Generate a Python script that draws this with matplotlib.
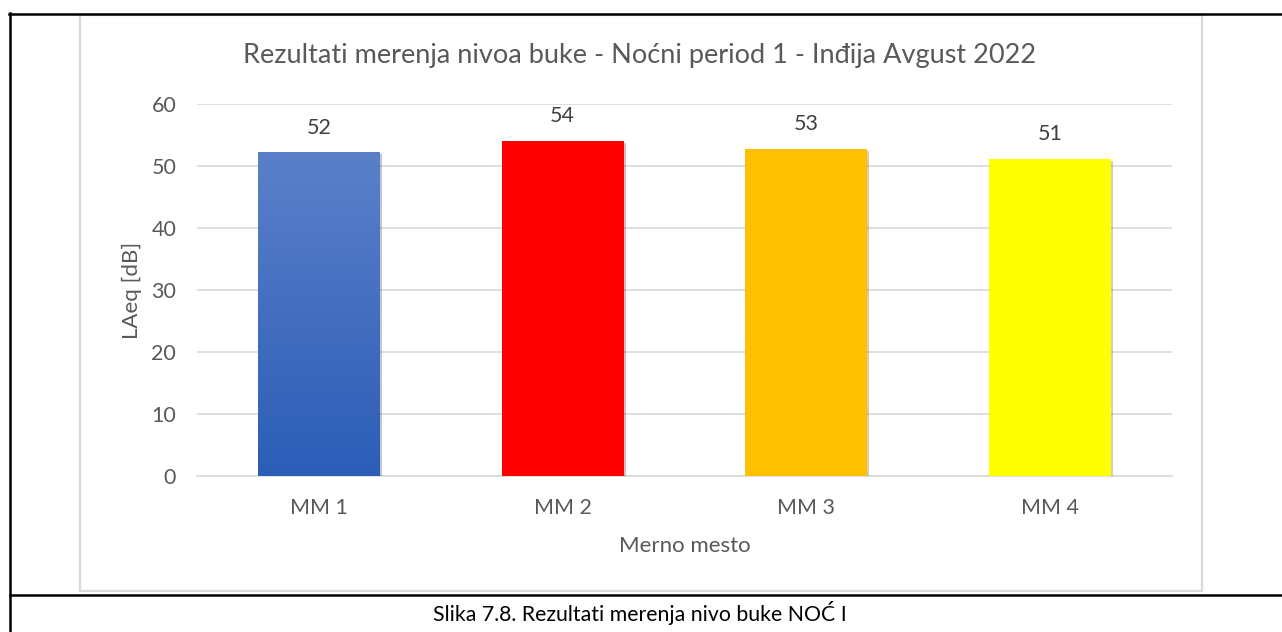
import numpy as np
import matplotlib.pyplot as plt
from matplotlib import patheffects
from matplotlib.colors import LinearSegmentedColormap
from matplotlib.lines import Line2D
from matplotlib.patches import Rectangle

# measurement points and night-time LAeq levels
locations = ['MM 1', 'MM 2', 'MM 3', 'MM 4']
laeq = [52.2, 54.0, 52.8, 51.1]
bar_colors = ['#4472C4', '#FF0000', '#FFC000', '#FFFF00']
y_ticks = [0, 10, 20, 30, 40, 50, 60]

title = 'Rezultati merenja nivoa buke - Noćni period 1 - Inđija Avgust 2022'
caption = 'Slika 7.8. Rezultati merenja nivo buke NOĆ I'

W, H = 1282, 632
plt.rcParams['font.family'] = ['Lato', 'DejaVu Sans']
fig = plt.figure(figsize=(W / 100, H / 100), dpi=100)


def fx(px):
    return px / W


def fy(py):
    return 1 - py / H


# table cell borders around the figure
for xs, ys in [((9, W), (13.5, 13.5)), ((10, 10), (13, H)), ((10, W), (594.5, 594.5))]:
    fig.add_artist(Line2D([fx(x) for x in xs], [fy(y) for y in ys],
                          color='black', lw=1.8, transform=fig.transFigure))

# light chart frame
fig.add_artist(Rectangle((fx(80), fy(591)), fx(1202) - fx(80), fy(15) - fy(591),
                         fill=False, edgecolor='#D9D9D9', lw=1.6,
                         transform=fig.transFigure))

ax = fig.add_axes([fx(197), fy(476), fx(1172) - fx(197), fy(104) - fy(476)])
x = np.arange(len(locations))
bars = ax.bar(x, laeq, width=0.5, color=bar_colors, zorder=3,
              path_effects=[patheffects.SimplePatchShadow(offset=(1.5, -1.5), alpha=0.25),
                            patheffects.Normal()])

# first bar gets a soft vertical gradient
b0 = bars[0]
grad = np.linspace(0, 1, 256).reshape(-1, 1)
cmap = LinearSegmentedColormap.from_list('blue', ['#2C5DB7', '#5B80C9'])
ax.imshow(grad, cmap=cmap, aspect='auto', origin='lower', zorder=3.5,
          extent=(b0.get_x(), b0.get_x() + b0.get_width(), 0, b0.get_height()))

for b, v in zip(bars, laeq):
    ax.text(b.get_x() + b.get_width() / 2, v + 4, f'{v:.0f}', ha='center', va='center',
            fontsize=15.5, color='#404040')

ax.set_xlim(-0.5, len(locations) - 0.5)
ax.set_ylim(0, 60)
ax.set_yticks(y_ticks)
ax.set_xticks(x)
ax.set_xticklabels(locations)
ax.yaxis.grid(True, color='#D9D9D9', lw=1.2, zorder=0)
ax.set_axisbelow(True)
for s in ['top', 'right', 'left']:
    ax.spines[s].set_visible(False)
ax.spines['bottom'].set_color('#D9D9D9')
ax.spines['bottom'].set_linewidth(1.2)
ax.tick_params(axis='both', length=0, labelsize=15.5, labelcolor='#595959')
ax.tick_params(axis='y', pad=15)
ax.tick_params(axis='x', pad=16)

ax.set_ylabel('LAeq [dB]', fontsize=16, color='#595959', labelpad=7)
ax.set_xlabel('Merno mesto', fontsize=16, color='#595959', labelpad=13)

fig.text(fx(640), fy(56), title, ha='center', va='center', fontsize=19.5, color='#595959')
fig.text(fx(640), fy(613), caption, ha='center', va='center', fontsize=15.3, color='black')

fig.savefig('out.png', dpi=100, facecolor='white')
